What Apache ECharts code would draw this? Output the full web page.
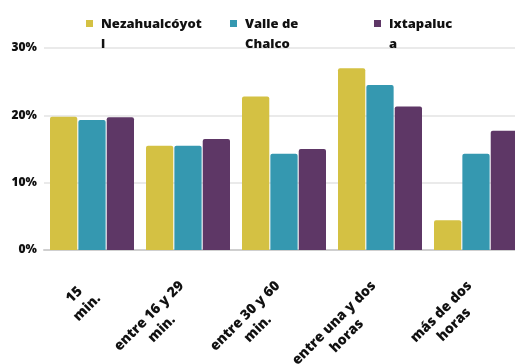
<!DOCTYPE html>
<html>
<head>
<meta charset="utf-8">
<script src="https://cdn.jsdelivr.net/npm/echarts@6/dist/echarts.min.js"></script>
<style>
  html, body { margin: 0; padding: 0; background: #fff; }
  #chart { width: 515px; height: 364px; }
</style>
</head>
<body>
<div id="chart"></div>
<script>
// Travel-time categories (two-line labels)
const categories = [
  '15\nmin.',
  'entre 16 y 29\nmin.',
  'entre 30 y 60\nmin.',
  'entre una y dos\nhoras',
  'más de dos\nhoras'
];

// Share of respondents per municipality (%)
const seriesNames = ['Nezahualcóyotl', 'Valle de Chalco', 'Ixtapaluca'];
const legendLabels = ['Nezahualcóyot\nl', 'Valle de\nChalco', 'Ixtapaluc\na'];
const nezahualcoyotl = [19.8, 15.5, 22.8, 27.0, 4.4];
const valleDeChalco = [19.3, 15.5, 14.3, 24.5, 14.3];
const ixtapaluca = [19.7, 16.5, 15.0, 21.3, 17.7];
const seriesValues = [nezahualcoyotl, valleDeChalco, ixtapaluca];

const colors = ['#D4C143', '#3598B0', '#5E3766'];
const fontFamily = '"Open Sans", "Noto Sans", sans-serif';

const chart = echarts.init(document.getElementById('chart'), null, { renderer: 'canvas' });

chart.setOption({
  animation: false,
  color: colors,
  textStyle: { fontFamily },
  legend: {
    left: 86,
    top: 14,
    padding: 0,
    itemGap: 13,
    itemWidth: 7,
    itemHeight: 28,
    icon: 'path://M0,0H7V7H0Z M0,28H0.01V28.01H0Z',
    data: seriesNames,
    formatter: name => legendLabels[seriesNames.indexOf(name)],
    textStyle: {
      fontFamily,
      fontSize: 13,
      fontWeight: 800,
      color: '#111',
      lineHeight: 20,
      width: 116,
      padding: [0, 0, 0, 3]
    }
  },
  // plot area runs a little past the right edge of the canvas
  grid: { left: 44, width: 480, top: 48, bottom: 114, outerBoundsMode: 'none' },
  xAxis: {
    type: 'category',
    data: categories,
    axisTick: { show: false },
    axisLine: { lineStyle: { color: '#cfcfcf', width: 2 } },
    axisLabel: {
      rotate: 45,
      margin: 40,
      interval: 0,
      formatter: v => v.split('\n').map(s => '{a|' + s + '}').join('\n'),
      rich: {
        a: {
          align: 'center',
          fontFamily,
          fontSize: 14,
          fontWeight: 800,
          color: '#111',
          lineHeight: 18
        }
      }
    }
  },
  yAxis: {
    type: 'value',
    min: 0,
    max: 30,
    interval: 10,
    axisLine: { show: false },
    axisTick: { show: false },
    splitLine: { lineStyle: { color: '#e3e3e3', width: 1.5 } },
    axisLabel: {
      formatter: '{value}%',
      margin: 7,
      fontFamily,
      fontSize: 12,
      fontWeight: 800,
      color: '#111'
    }
  },
  series: seriesNames.map((name, i) => ({
    name,
    type: 'bar',
    data: seriesValues[i],
    barGap: '4%',
    barCategoryGap: '12.5%',
    itemStyle: { borderRadius: [2, 2, 0, 0] }
  }))
});
</script>
</body>
</html>
